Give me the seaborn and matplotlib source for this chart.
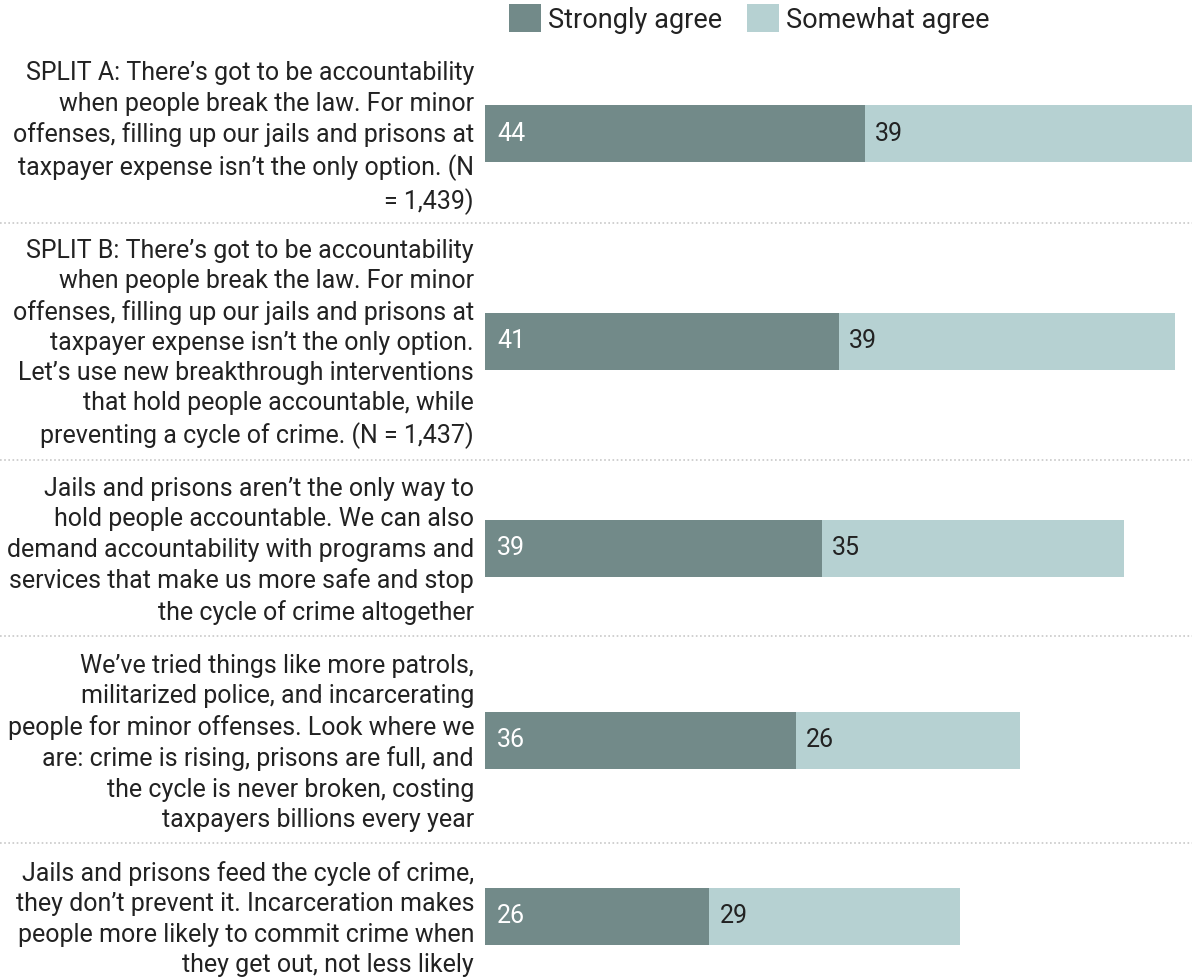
import matplotlib
matplotlib.use("Agg")
import matplotlib.pyplot as plt
import seaborn as sns
from matplotlib.patches import Patch
from matplotlib.lines import Line2D

sns.set_style("white")
plt.rcParams["font.family"] = ["Roboto", "DejaVu Sans"]

labels = [
    "SPLIT A: There\u2019s got to be accountability\nwhen people break the law. For minor\noffenses, filling up our jails and prisons at\ntaxpayer expense isn\u2019t the only option. (N\n= 1,439)",
    "SPLIT B: There\u2019s got to be accountability\nwhen people break the law. For minor\noffenses, filling up our jails and prisons at\ntaxpayer expense isn\u2019t the only option.\nLet\u2019s use new breakthrough interventions\nthat hold people accountable, while\npreventing a cycle of crime. (N = 1,437)",
    "Jails and prisons aren\u2019t the only way to\nhold people accountable. We can also\ndemand accountability with programs and\nservices that make us more safe and stop\nthe cycle of crime altogether",
    "We\u2019ve tried things like more patrols,\nmilitarized police, and incarcerating\npeople for minor offenses. Look where we\nare: crime is rising, prisons are full, and\nthe cycle is never broken, costing\ntaxpayers billions every year",
    "Jails and prisons feed the cycle of crime,\nthey don\u2019t prevent it. Incarceration makes\npeople more likely to commit crime when\nthey get out, not less likely",
]
strongly = [44, 41, 39, 36, 26]
somewhat = [39, 39, 35, 26, 29]
series_names = ["Strongly agree", "Somewhat agree"]

dark = "#728a89"
light = "#b6d1d2"
text_color = "#222222"

W, H = 1192, 980
# row layout in pixels (top edge, bar centre, bottom edge)
centers = [134, 341, 548, 740, 916]
edges = [45, 223, 460, 636, 843, 980]
bar_h = 57
x_left = 485
px_per_unit = 8.63

fig = plt.figure(figsize=(W / 100, H / 100), dpi=100)

for i, label in enumerate(labels):
    top, bottom, c = edges[i], edges[i + 1], centers[i]
    ax = fig.add_axes([x_left / W, 1 - bottom / H, (W - x_left) / W, (bottom - top) / H])
    total = strongly[i] + somewhat[i]
    sns.barplot(x=[total], y=[label], orient="h", color=light, saturation=1,
                width=1, linewidth=0, ax=ax)
    sns.barplot(x=[strongly[i]], y=[label], orient="h", color=dark, saturation=1,
                width=1, linewidth=0, ax=ax)
    ax.set_ylim((bottom - c) / bar_h, -(c - top) / bar_h)
    ax.set_xlim(0, (W - x_left) / px_per_unit)
    ax.axis("off")

    ax.annotate(label, xy=(0, 0), xycoords=("axes fraction", "data"),
                xytext=(-11, -4 if i == 0 else -3), textcoords="offset pixels",
                ha="right", va="center", fontsize=18, linespacing=1.33,
                color=text_color, annotation_clip=False)
    ax.annotate(str(strongly[i]), xy=(0, 0), xytext=(12, 0),
                textcoords="offset pixels", ha="left", va="center",
                fontsize=18, color="white")
    ax.annotate(str(somewhat[i]), xy=(strongly[i], 0), xytext=(10, 0),
                textcoords="offset pixels", ha="left", va="center",
                fontsize=18, color=text_color)

# dotted separators across full width
for y in edges[1:-1]:
    fig.add_artist(Line2D([0, 1], [1 - y / H, 1 - y / H], transform=fig.transFigure,
                          color="#c8c8c8", linewidth=1.2, linestyle=(0, (1, 1.5))))

handles = [Patch(facecolor=dark, edgecolor="none"), Patch(facecolor=light, edgecolor="none")]
fig.legend(handles, series_names, loc="center", bbox_to_anchor=(749 / W, 1 - 19 / H),
           ncol=2, frameon=False, fontsize=19.5, handlelength=1.2, handleheight=1.2,
           handletextpad=0.25, columnspacing=0.9, labelcolor=text_color)

plt.savefig("out.png", dpi=100)
plt.close()
